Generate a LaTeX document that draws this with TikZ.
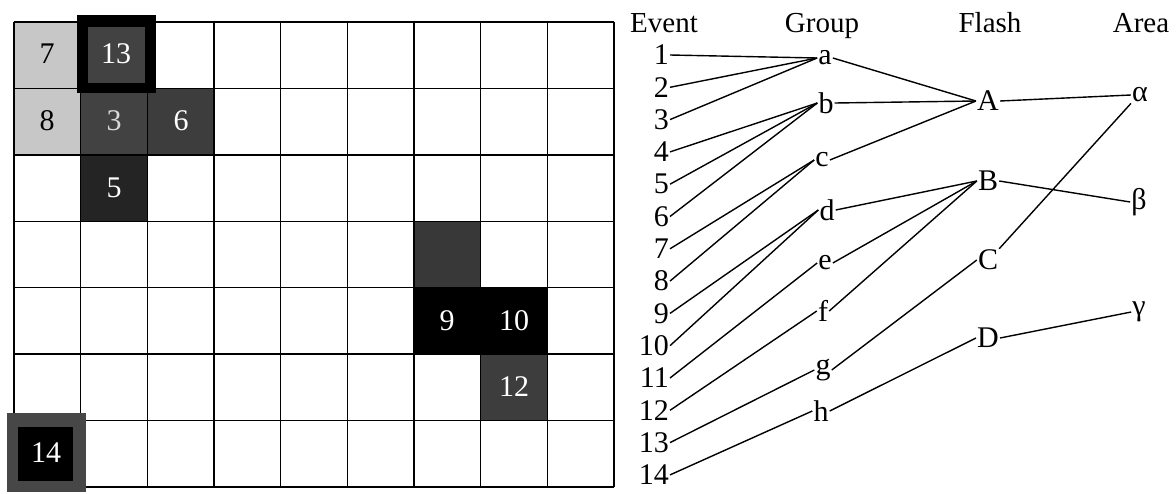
\documentclass[tikz,border=0pt]{standalone}
\usepackage{fontspec}
\setmainfont{Liberation Serif}
\begin{document}
\begin{tikzpicture}[x=1pt,y=-1pt,
  lbl/.style={inner sep=1pt, font=\fontsize{30}{32}\selectfont},
  hdr/.style={inner sep=1pt, font=\fontsize{29}{31}\selectfont},
  celltxt/.style={inner sep=0pt, font=\fontsize{30}{32}\selectfont},
  ln/.style={line width=1.4pt},
  gridln/.style={line width=1.5pt}]
\useasboundingbox[fill=white] (0,0) rectangle (1176,493);
% shaded cells
\def\cw{66.67}\def\ch{66.43}
\foreach \c/\r/\g in {0/0/22, 0/1/22, 1/1/74, 2/1/76, 1/2/86, 6/3/78, 6/4/100, 7/4/100, 7/5/76}{
  \fill[black!\g] ({14+\c*\cw},{22+\r*\ch}) rectangle ++(\cw,\ch);
}
% grid
\foreach \i in {0,...,9}{
  \draw[gridln] ({14+\i*\cw},22) -- ({14+\i*\cw},487);
}
\foreach \j in {0,...,7}{
  \draw[gridln] (14,{22+\j*\ch}) -- (614,{22+\j*\ch});
}
% special blocks
\fill[black] (77,15) rectangle (156,93);
\fill[black!74] (88,27) rectangle (145,83);
\fill[black!72] (7,413) rectangle (86,492);
\fill[black] (18,427) rectangle (73,481);
% cell labels
\node[celltxt] (c7) at (47,54) {7};
\node[celltxt] (c8) at (47,121) {8};
\node[celltxt,text=white] (c13) at (116,54) {13};
\node[celltxt,text=black!15] (c3) at (114,121) {3};
\node[celltxt,text=white] (c6) at (181,121) {6};
\node[celltxt,text=white] (c5) at (114,188) {5};
\node[celltxt,text=white] (c9) at (447,321) {9};
\node[celltxt,text=white] (c10) at (514,321) {10};
\node[celltxt,text=white] (c12) at (514,387) {12};
\node[celltxt,text=white] (c14) at (46,453) {14};
% headers
\node[hdr,anchor=base] (hE) at (664,32) {Event};
\node[hdr,anchor=base] (hG) at (822,32) {Group};
\node[hdr,anchor=base] (hF) at (990,32) {Flash};
\node[hdr,anchor=base] (hA) at (1141,32) {Area};
% events
\foreach \n in {1,...,14}{
  \node[lbl,anchor=east] (e\n) at (670,{55+(\n-1)*32.3}) {\n};
}
% groups
\node[lbl] (ga) at (825,58) {a};
\node[lbl] (gb) at (826,103) {b};
\node[lbl] (gc) at (822,160) {c};
\node[lbl] (gd) at (827,210) {d};
\node[lbl] (ge) at (825,263) {e};
\node[lbl] (gf) at (823,311) {f};
\node[lbl] (gg) at (823,370) {g};
\node[lbl] (gh) at (821,411) {h};
% flashes
\node[lbl] (fA) at (988,101) {A};
\node[lbl] (fB) at (988,181) {B};
\node[lbl] (fC) at (988,260) {C};
\node[lbl] (fD) at (988,338) {D};
% areas
\node[lbl] (aal) at (1140,95) {α};
\node[lbl] (abe) at (1139,202) {β};
\node[lbl] (aga) at (1139,312) {γ};
% event -> group
\foreach \e/\g in {1/ga,2/ga,3/ga,4/gb,5/gb,6/gb,7/gc,8/gc,9/gd,10/gd,11/ge,12/gf,13/gg,14/gh}{
  \draw[ln] (e\e.east) -- (\g.west);
}
% group -> flash
\foreach \g/\f in {ga/fA,gb/fA,gc/fA,gd/fB,ge/fB,gf/fB,gg/fC,gh/fD}{
  \draw[ln] (\g.east) -- (\f.west);
}
% flash -> area
\draw[ln] (fA.east) -- (aal.west);
\draw[ln] (fC.north east) -- (aal.south west);
\draw[ln] (fB.east) -- (abe.west);
\draw[ln] (fD.east) -- (aga.west);
\end{tikzpicture}
\end{document}
